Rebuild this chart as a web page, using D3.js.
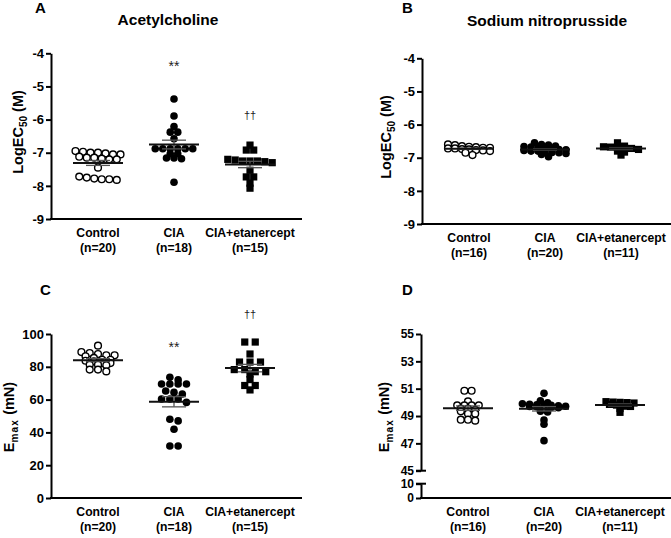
<!DOCTYPE html>
<html>
<head>
<meta charset="utf-8">
<script src="https://cdn.jsdelivr.net/npm/d3@7"></script>
<style>
  html,body{margin:0;padding:0;background:#fff;}
  svg{display:block;font-family:"Liberation Sans",Arial,sans-serif;}
</style>
</head>
<body>
<svg id="chart" width="671" height="538"></svg>
<script>
// ---------------- DATA ----------------
const categories = ["Control", "CIA", "CIA+etanercept"];

// Panel A: Acetylcholine LogEC50 (M)
const achLogEC50_control = [-6.95,-6.97,-7.0,-7.0,-7.02,-7.05,-7.05,-7.12,-7.15,-7.15,-7.18,-7.2,-7.2,-7.45,-7.72,-7.75,-7.78,-7.8,-7.8,-7.82];
const achLogEC50_cia = [-5.38,-5.89,-6.21,-6.38,-6.38,-6.58,-6.88,-6.88,-6.88,-6.88,-6.88,-6.88,-7.03,-7.03,-7.16,-7.16,-7.18,-7.89];
const achLogEC50_etan = [-6.77,-6.92,-6.92,-7.2,-7.22,-7.25,-7.25,-7.25,-7.27,-7.3,-7.53,-7.73,-7.73,-7.92,-8.07];

// Panel B: Sodium nitroprusside LogEC50 (M)
const snpLogEC50_control = [-6.6,-6.62,-6.65,-6.67,-6.68,-6.7,-6.7,-6.72,-6.72,-6.74,-6.75,-6.77,-6.78,-6.8,-6.85,-6.92];
const snpLogEC50_cia = [-6.55,-6.6,-6.62,-6.65,-6.66,-6.68,-6.7,-6.72,-6.73,-6.75,-6.76,-6.78,-6.8,-6.8,-6.82,-6.84,-6.85,-6.87,-6.9,-6.97];
const snpLogEC50_etan = [-6.55,-6.65,-6.67,-6.68,-6.7,-6.7,-6.72,-6.75,-6.8,-6.83,-6.92];

// Panel C: Acetylcholine Emax (mN)
const achEmax_control = [87.0,85.4,86.4,87.8,92.9,81.3,81.3,82.3,80.9,77.2,78.3,78.3,83.7,84.3,87.0,88.4,89.0,84.3,82.3,83.3];
const achEmax_cia = [72.0,73.6,69.5,69.5,69.5,69.5,64.4,65.2,60.4,60.4,60.4,63.4,58.3,48.0,47.0,41.9,31.7,31.7];
const achEmax_etan = [95.1,95.1,87.8,82.9,82.9,82.9,78.3,77.0,77.0,75.6,78.3,72.2,68.6,68.6,65.9];

// Panel D: Sodium nitroprusside Emax (mN)
const snpEmax_control = [50.85,50.85,50.07,49.78,49.78,49.78,49.78,49.54,49.54,49.46,49.34,49.17,49.17,48.73,48.73,48.66];
const snpEmax_cia = [50.66,50.12,49.97,49.9,49.85,49.82,49.8,49.78,49.75,49.72,49.7,49.68,49.65,49.62,49.6,49.35,49.3,48.7,48.4,47.2];
const snpEmax_etan = [50.05,50.02,50.0,49.98,49.95,49.85,49.8,49.72,49.7,49.55,49.27];

// Tick labels
const logTicks = [-4,-5,-6,-7,-8,-9];
const emaxTicksC = [0,20,40,60,80,100];
const emaxTicksDUpper = [45,47,49,51,53,55];
const emaxTicksDLower = [0,10];

// Significance marks (value = text baseline position in data units)
const annotA = [{cat:"CIA", text:"**", value:-4.54}, {cat:"CIA+etanercept", text:"\u2020\u2020", value:-5.98}];
const annotC = [{cat:"CIA", text:"**", value:89.3}, {cat:"CIA+etanercept", text:"\u2020\u2020", value:109.8}];

// ---------------- DRAWING ----------------
const svg = d3.select("#chart");
const shapes = ["open","filled","square"];
const fmtTick = d => (d < 0 ? "-" + Math.abs(d) : String(d));

// GraphPad-like scatter: points with nearly equal values share a row, spread side by side
function rowLayout(vals, y, cx, d, binH) {
  const pts = vals.map(v => ({v, y: y(v)})).sort((a,b) => a.y - b.y);
  const bins = [];
  let cur = null;
  for (const p of pts) {
    if (!cur || p.y - cur.start > binH) { cur = {start: p.y, pts: []}; bins.push(cur); }
    cur.pts.push(p);
  }
  bins.forEach(b => {
    const n = b.pts.length;
    b.pts.forEach((p, k) => { p.x = cx + (k - (n - 1) / 2) * d; });
  });
  return pts;
}

function drawPanel(o) {
  const g = svg.append("g");
  const x = d3.scalePoint().domain(categories).range([o.x0 + 47, o.x0 + 199]);

  g.append("text").attr("x", o.letterX).attr("y", o.letterY).attr("font-size", 15).attr("font-weight", "bold").text(o.letter);
  if (o.title) {
    g.append("text").attr("x", o.titleX).attr("y", o.titleY).attr("text-anchor", "middle")
      .attr("font-size", 15.5).attr("font-weight", "bold").text(o.title);
  }

  const styleAxis = (sel, fs) => {
    sel.selectAll("path.domain").attr("stroke", "#000").attr("stroke-width", 2);
    sel.selectAll(".tick line").attr("stroke", "#000").attr("stroke-width", 2);
    sel.selectAll(".tick text").attr("font-size", fs).attr("font-weight", "bold").attr("fill", "#000")
      .attr("font-family", "Liberation Sans, Arial, sans-serif");
  };
  o.yAxes.forEach(ax => {
    const a = g.append("g").attr("transform", `translate(${o.x0},0)`)
      .call(d3.axisLeft(ax.scale).tickValues(ax.ticks).tickFormat(fmtTick).tickSize(5).tickSizeOuter(0).tickPadding(2));
    styleAxis(a, o.tickFs || 13);
    if (ax.caps) {
      ax.caps.forEach(c => {
        g.append("line").attr("x1", o.x0 - 5).attr("x2", o.x0 + 5)
          .attr("y1", ax.scale(c)).attr("y2", ax.scale(c)).attr("stroke", "#000").attr("stroke-width", 2);
      });
    }
  });

  const xa = g.append("g").attr("transform", `translate(0,${o.yBot})`);
  xa.append("line").attr("x1", o.x0 - 1).attr("x2", o.x1).attr("stroke", "#000").attr("stroke-width", 2);
  const labs = xa.selectAll("text.cat").data(categories).join("text").attr("class", "cat")
    .attr("text-anchor", "middle").attr("font-size", 12.2).attr("font-weight", "bold");
  labs.append("tspan").attr("x", d => x(d)).attr("y", 18).text(d => d);
  labs.append("tspan").attr("x", d => x(d)).attr("y", 32.5).text((d,i) => `(n=${o.data[i].length})`);

  const ly = g.append("text").attr("transform", `translate(${o.ylabX},${o.ylabY}) rotate(-90)`)
    .attr("text-anchor", "middle").attr("font-size", 14.5).attr("font-weight", "bold");
  if (o.ylabType === "log") {
    ly.append("tspan").text("LogEC");
    ly.append("tspan").attr("font-size", 10).attr("dy", 4).text("50");
    ly.append("tspan").attr("dy", -4).text(" (M)");
  } else {
    ly.append("tspan").text("E");
    ly.append("tspan").attr("font-size", 10).attr("dy", 4).attr("letter-spacing", 1.2).text("max");
    ly.append("tspan").attr("dy", -4).text(" (mN)");
  }

  const y = o.yAxes[0].scale;
  o.data.forEach((vals, i) => {
    const cx = x(categories[i]);
    const shape = shapes[i];
    const pts = rowLayout(vals, y, cx, shape === "square" ? o.sepSq : o.sep, o.binH || 3.5);
    if (shape === "square") {
      g.append("g").selectAll("rect").data(pts).join("rect")
        .attr("x", d => d.x - 3.6).attr("y", d => d.y - 3.6).attr("width", 7.2).attr("height", 7.2).attr("fill", "#000");
    } else {
      g.append("g").selectAll("circle").data(pts).join("circle")
        .attr("cx", d => d.x).attr("cy", d => d.y).attr("r", shape === "open" ? 3.4 : 3.8)
        .attr("fill", shape === "open" ? "#fff" : "#000")
        .attr("stroke", "#000").attr("stroke-width", shape === "open" ? 1.4 : 0);
    }
    const m = d3.mean(vals), sem = d3.deviation(vals) / Math.sqrt(vals.length);
    const eg = g.append("g");
    eg.append("line").attr("x1", cx).attr("x2", cx).attr("y1", y(m - sem)).attr("y2", y(m + sem))
      .attr("stroke", "#555").attr("stroke-width", 1.3);
    [m - sem, m + sem].forEach(v => eg.append("line").attr("x1", cx - 12).attr("x2", cx + 12)
      .attr("y1", y(v)).attr("y2", y(v)).attr("stroke", "#555").attr("stroke-width", 1.3));
    eg.append("line").attr("x1", cx - 25).attr("x2", cx + 25).attr("y1", y(m)).attr("y2", y(m))
      .attr("stroke", "#111").attr("stroke-width", 2);
  });

  (o.annot || []).forEach(a => {
    g.append("text").attr("x", x(a.cat)).attr("y", y(a.value)).attr("text-anchor", "middle")
      .attr("font-size", a.text === "**" ? 14 : 11).attr("fill", "#222").text(a.text);
  });
}

// Panel A
const yA = d3.scaleLinear().domain([-9, -4]).range([219, 53.3]);
drawPanel({x0: 51, x1: 302, yBot: 219, letter: "A", letterX: 35, letterY: 13, title: "Acetylcholine", titleX: 168, titleY: 25,
  yAxes: [{scale: yA, ticks: logTicks}], data: [achLogEC50_control, achLogEC50_cia, achLogEC50_etan],
  ylabType: "log", ylabX: 23, ylabY: 132, annot: annotA, sep: 7.5, sepSq: 7.4});

// Panel B
const yB = d3.scaleLinear().domain([-9, -4]).range([224, 58.3]);
drawPanel({x0: 422, x1: 671, yBot: 224, letter: "B", letterX: 402, letterY: 13, title: "Sodium nitroprusside", titleX: 547, titleY: 26,
  yAxes: [{scale: yB, ticks: logTicks}], data: [snpLogEC50_control, snpLogEC50_cia, snpLogEC50_etan],
  ylabType: "log", ylabX: 391, ylabY: 137, sep: 7.0, sepSq: 7.0});

// Panel C
const yC = d3.scaleLinear().domain([0, 100]).range([498, 334]);
drawPanel({x0: 51, x1: 302, yBot: 498, letter: "C", letterX: 40, letterY: 295,
  yAxes: [{scale: yC, ticks: emaxTicksC}], data: [achEmax_control, achEmax_cia, achEmax_etan],
  ylabType: "emax", ylabX: 14, ylabY: 417, annot: annotC, sep: 8.3, sepSq: 10.5});

// Panel D (broken axis)
const yDu = d3.scaleLinear().domain([45, 55]).range([470.7, 334]);
const yDl = d3.scaleLinear().domain([0, 10]).range([498, 483.7]);
drawPanel({x0: 421, x1: 671, yBot: 498, letter: "D", letterX: 402, letterY: 295,
  yAxes: [{scale: yDu, ticks: emaxTicksDUpper, caps: [45]}, {scale: yDl, ticks: emaxTicksDLower, caps: [10]}],
  data: [snpEmax_control, snpEmax_cia, snpEmax_etan], tickFs: 12, binH: 2.5,
  ylabType: "emax", ylabX: 389, ylabY: 417, sep: 7.2, sepSq: 7.0});
</script>
</body>
</html>
